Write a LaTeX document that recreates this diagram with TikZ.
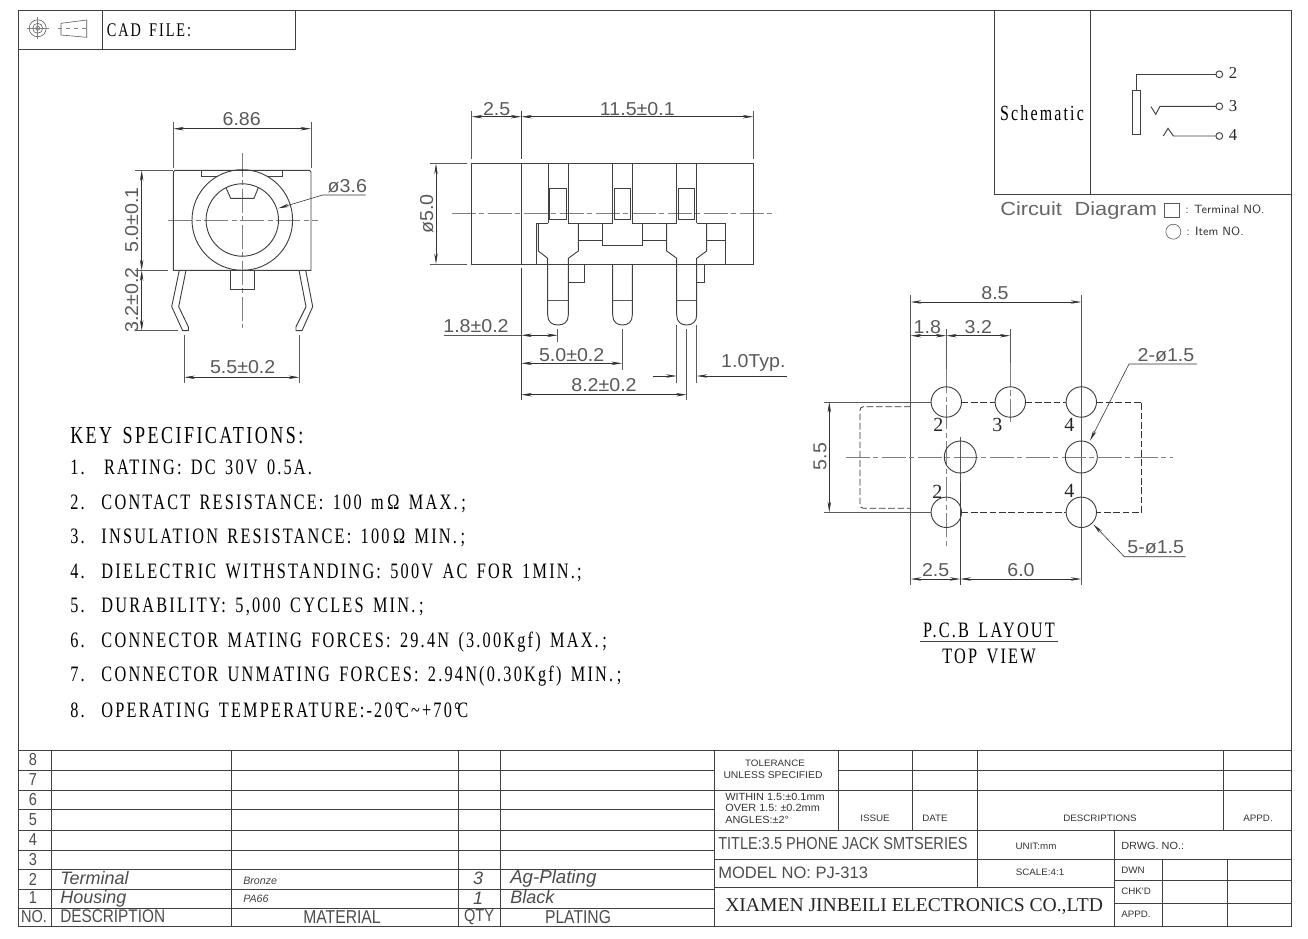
\documentclass[tikz,border=0pt]{standalone}
\usepackage{fontspec}
\usetikzlibrary{arrows.meta}
\newfontfamily\cadFont[FakeStretch=1.05]{Liberation Sans}
\newfontfamily\wideFont[FakeStretch=1.15]{Liberation Sans}
\newfontfamily\tableFont[FakeStretch=0.84]{Liberation Sans}
\newfontfamily\slantFont[FakeStretch=1.0]{Liberation Sans}
\newfontfamily\specFont[FakeStretch=0.74,LetterSpace=10,WordSpace=1.5]{Liberation Serif}
\newfontfamily\pinFont{Liberation Serif}
\begin{document}
\begin{tikzpicture}[%%
  x=0.75pt,y=-0.75pt,%%
  lineStyle/.style={-,line width=0.7pt,black!75},%%
  thinStyle/.style={-,line width=0.45pt,black!65},%%
  centerStyle/.style={-,line width=0.4pt,black!50,dash pattern=on 18pt off 2.5pt on 4pt off 2.5pt},%%
  hiddenStyle/.style={-,line width=0.6pt,black!80,dash pattern=on 5pt off 2pt},%%
  dimStyle/.style={{Stealth[length=8pt,width=2.6pt]}-{Stealth[length=8pt,width=2.6pt]},line width=0.45pt,black!80},%%
  tipStyle/.style={-{Stealth[length=8pt,width=2.6pt]},line width=0.45pt,black!80},%%
  dimText/.style={inner sep=0pt,black!65,font=\cadFont\fontsize{14}{14}\selectfont},%%
  tableText/.style={inner sep=0pt,black!70,font=\tableFont\fontsize{13}{13}\selectfont},%%
  tableItalic/.style={inner sep=0pt,black!70,font=\slantFont\itshape\fontsize{13.5}{13.5}\selectfont},%%
  smallItalic/.style={inner sep=0pt,black!75,font=\slantFont\itshape\fontsize{8}{8}\selectfont},%%
  smallText/.style={inner sep=0pt,black!80,font=\cadFont\fontsize{7}{7}\selectfont},%%
  noteText/.style={inner sep=0pt,black!80,anchor=west,font=\cadFont\fontsize{7.8}{7.8}\selectfont},%%
  specText/.style={inner sep=0pt,anchor=base west,black,font=\specFont\fontsize{16.5}{16.5}\selectfont},%%
  pinText/.style={inner sep=0pt,black!85,font=\pinFont\fontsize{15}{15}\selectfont}%%
]
\useasboundingbox (0,0) rectangle (1308,938);
%%
%%
%% Frame of the sheet.
\draw[lineStyle] (18,10) rectangle (1291,926);
%% CAD file box.
\draw[lineStyle] (18,49) -- (295,49) -- (295,10);
\draw[lineStyle] (102,10) -- (102,49);
\draw[thinStyle] (37.7,28.3) circle (8.5);
\draw[thinStyle] (37.7,28.3) circle (5);
\draw[thinStyle] (37.7,28.3) circle (2);
\draw[centerStyle,solid] (26.5,28.3) -- (49,28.3);
\draw[centerStyle,solid] (37.7,17.5) -- (37.7,39);
\draw[thinStyle] (61,23.3) -- (86.7,20) -- (86.7,37.3) -- (61,35) -- cycle;
\draw[centerStyle,dashed] (58,28.3) -- (90,28.3);
\node (CadFile) at (149,30) [specText,anchor=center,font=\specFont\fontsize{14.5}{14.5}\selectfont] {CAD FILE:};
%%
%%
%% Schematic box.
\draw[lineStyle] (994,10) -- (994,194.3) -- (1291,194.3);
\draw[lineStyle] (1090.3,10) -- (1090.3,194.3);
\node (Schematic) at (1042,113) [specText,anchor=center,font=\specFont\fontsize{16.2}{16.2}\selectfont] {Schematic};
\draw[lineStyle] (1132.3,90.3) rectangle (1140.7,134.3);
\draw[lineStyle] (1136.3,90.3) -- (1136.3,74.3) -- (1216,74.3);
\draw[lineStyle] (1151,106.7) -- (1155.7,114.3) -- (1160,106.3) -- (1216,106.3);
\draw[lineStyle] (1163.3,136) -- (1168,128.3) -- (1173.3,136) -- (1216,136);
\draw[lineStyle] (1219.3,74.3) circle (3.4);
\draw[lineStyle] (1219.3,106.3) circle (3.4);
\draw[lineStyle] (1219.3,136) circle (3.4);
\node (SchemTwo) at (1233,73) [pinText,font=\pinFont\fontsize{12.5}{12.5}\selectfont] {2};
\node (SchemThree) at (1233,106) [pinText,font=\pinFont\fontsize{12.5}{12.5}\selectfont] {3};
\node (SchemFour) at (1233,135) [pinText,font=\pinFont\fontsize{12.5}{12.5}\selectfont] {4};
\node (Circuit) at (1000,211) [dimText,anchor=west,black!60,font=\wideFont\fontsize{14.2}{14.2}\selectfont] {Circuit\hspace{5pt} Diagram};
\draw[thinStyle] (1164.7,203.3) rectangle (1179.3,217.3);
\draw[thinStyle] (1173.3,231.7) circle (7.5);
\node (TerminalNo) at (1185,209.5) [smallText,anchor=west,font=\sffamily\fontsize{9}{9}\selectfont] {: Terminal NO.};
\node (ItemNo) at (1186,231.7) [smallText,anchor=west,font=\sffamily\fontsize{9}{9}\selectfont] {: Item NO.};
%%
%%
%% Front view of the jack.
\draw[centerStyle] (168.3,220) -- (318.3,220);
\draw[centerStyle] (242.3,152.7) -- (242.3,328.3);
\draw[lineStyle] (175,170.3) -- (309.5,170.3) -- (311,172) -- (311,270.3) -- (173.3,270.3) -- (173.3,172) -- cycle;
\draw[lineStyle] (201.7,170.3) -- (201.7,176) -- (218,176);
\draw[lineStyle] (266.7,176) -- (282.7,176) -- (282.7,170.3);
\draw[lineStyle] (242.3,220) circle (50.3);
\draw[lineStyle] (242.3,220) circle (36.2);
\draw[lineStyle] (226,187.7) -- (230.7,198.3) -- (254,198.3) -- (258.3,187.7);
\draw[lineStyle] (230,270.3) -- (230,289) -- (254.3,289) -- (254.3,270.3);
\draw[lineStyle] (179.3,270.3) -- (171.7,306.7) -- (182.7,330.7) -- (188.3,330.7) -- (188.3,326.7) -- (178.7,306.7) -- (186,270.3);
\draw[lineStyle] (299,270.3) -- (306,306.7) -- (296,326.7) -- (296,330.7) -- (302,330.7) -- (312.7,306.7) -- (305.7,270.3);
%% Dimensions of the front view.
\draw[thinStyle] (173.3,122.3) -- (173.3,168);
\draw[thinStyle] (311,122.3) -- (311,168);
\draw[dimStyle] (173.3,128.7) -- (311,128.7);
\node (FrontWidth) at (241.7,119.3) [dimText] {6.86};
\draw[tipStyle] (365.7,195) -- (322.7,195) -- (278.3,208.3);
\node (FrontBore) at (347.3,186) [dimText] {ø3.6};
\draw[thinStyle] (135,170.3) -- (173,170.3);
\draw[thinStyle] (135,270.3) -- (168.3,270.3);
\draw[thinStyle] (135,330.7) -- (178.3,330.7);
\draw[dimStyle] (141.7,170.3) -- (141.7,270.3);
\draw[dimStyle] (141.7,270.3) -- (141.7,330.7);
\node (FrontHeight) at (131.7,220) [dimText,rotate=90] {5.0±0.1};
\node (FrontPin) at (131.7,300) [dimText,rotate=90] {3.2±0.2};
\draw[thinStyle] (184.3,335) -- (184.3,383);
\draw[thinStyle] (299.3,335) -- (299.3,383);
\draw[dimStyle] (184.3,377.3) -- (299.3,377.3);
\node (FrontPitch) at (242.7,367.3) [dimText] {5.5±0.2};
%%
%%
%% Side view of the jack.
\draw[centerStyle] (451.7,213.3) -- (775.7,213.3);
\draw[lineStyle] (471.7,163.7) rectangle (753.3,264);
\draw[lineStyle] (521.3,163.7) -- (521.3,264);
%% Slots and windows.
\draw[lineStyle] (548.3,163.7) -- (548.3,223.3);
\draw[lineStyle] (568.3,163.7) -- (568.3,223.3);
\draw[lineStyle] (612.7,163.7) -- (612.7,223.3);
\draw[lineStyle] (632.3,163.7) -- (632.3,223.3);
\draw[lineStyle] (676.7,163.7) -- (676.7,223.3);
\draw[lineStyle] (696.7,163.7) -- (696.7,223.3);
\draw[lineStyle] (549.3,188.3) rectangle (566,219.3);
\draw[lineStyle] (614.3,188.3) rectangle (630.7,219.3);
\draw[lineStyle] (678.7,188.3) rectangle (694.7,219.3);
%% Inner outline.
\draw[lineStyle] (536,264) -- (536,223.3) -- (548.3,223.3);
\draw[lineStyle] (568.3,223.3) -- (612.7,223.3);
\draw[lineStyle] (632.3,223.3) -- (676.7,223.3);
\draw[lineStyle] (696.7,223.3) -- (725,223.3) -- (725,264);
\draw[lineStyle] (578.3,240) -- (602,240);
\draw[lineStyle] (602,223.3) -- (602,245.3) -- (642.3,245.3) -- (642.3,223.3);
\draw[lineStyle] (642.3,240) -- (666.7,240);
\draw[lineStyle] (706.7,240) -- (725,240);
%% Pins.
\draw[lineStyle] (538.3,223.3) -- (538.3,251) -- (547.7,258.3) -- (547.7,315) .. controls (547.7,322) and (552,325) .. (558,325) .. controls (564,325) and (568.3,322) .. (568.3,315) -- (568.3,258.3) -- (578.3,251) -- (578.3,223.3);
\draw[lineStyle] (612.7,264) -- (612.7,315) .. controls (612.7,322) and (617,325) .. (622.5,325) .. controls (628,325) and (632.3,322) .. (632.3,315) -- (632.3,264);
\draw[lineStyle] (666.7,223.3) -- (666.7,251) -- (676.7,258.3) -- (676.7,315) .. controls (676.7,322) and (681,325) .. (686.7,325) .. controls (692,325) and (696.7,322) .. (696.7,315) -- (696.7,258.3) -- (706.7,251) -- (706.7,223.3);
\draw[thinStyle] (548,300) -- (568,300);
\draw[thinStyle] (613,300) -- (632,300);
\draw[thinStyle] (677,300) -- (696,300);
\draw[lineStyle] (568.3,264) -- (584.3,264) -- (584.3,282) -- (568.3,282);
\draw[lineStyle] (696.7,282) -- (704,282) -- (704,264);
%% Dimensions of the side view.
\draw[thinStyle] (471.7,110.7) -- (471.7,159);
\draw[lineStyle] (521.3,110.7) -- (521.3,159);
\draw[thinStyle] (753.3,110.7) -- (753.3,159);
\draw[dimStyle] (471.7,116.7) -- (521.3,116.7);
\draw[dimStyle] (521.3,116.7) -- (753.3,116.7);
\node (SideFront) at (496.7,108.7) [dimText] {2.5};
\node (SideLength) at (637.3,108.7) [dimText] {11.5±0.1};
\draw[thinStyle] (430,163.7) -- (466.7,163.7);
\draw[thinStyle] (430,264) -- (466.7,264);
\draw[dimStyle] (436,163.7) -- (436,264);
\node (SideDia) at (426.7,214) [dimText,rotate=90] {ø5.0};
\draw[lineStyle] (521.3,268.3) -- (521.3,400);
\draw[thinStyle] (557.7,329) -- (557.7,341.7);
\draw[thinStyle] (622,329) -- (622,370);
\draw[thinStyle] (686.7,329) -- (686.7,400);
\draw[thinStyle] (444,335.3) -- (521.3,335.3);
\draw[dimStyle] (521.3,335.3) -- (557.7,335.3);
\draw[dimStyle] (521.3,363.3) -- (622,363.3);
\draw[dimStyle] (521.3,394.7) -- (686.7,394.7);
\node (SideFirst) at (476,326) [dimText] {1.8±0.2};
\node (SideSecond) at (571.7,355) [dimText] {5.0±0.2};
\node (SideThird) at (604,385) [dimText] {8.2±0.2};
\draw[thinStyle] (676.7,325) -- (676.7,382.7);
\draw[thinStyle] (696.7,325) -- (696.7,382.7);
\draw[tipStyle] (652.7,376) -- (676.7,376);
\draw[tipStyle] (786.7,376) -- (696.7,376);
\node (SideTyp) at (753.3,363.3) [dimText] {1.0Typ.};
%%
%%
%% PCB layout.
\draw[thinStyle] (910.7,295) -- (910.7,585);
\draw[thinStyle] (1081.3,295) -- (1081.3,585);
\draw[centerStyle] (845.7,457) -- (1172.7,457);
\draw[centerStyle] (946.3,369.3) -- (946.3,545.7);
\draw[centerStyle] (1010.3,363) -- (1010.3,421.7);
\draw[thinStyle] (960.3,436.7) -- (960.3,481.7);
\draw[thinStyle] (946.3,329.3) -- (946.3,369.3);
\draw[thinStyle] (1010.3,329.3) -- (1010.3,363);
\draw[lineStyle] (960.3,481.7) -- (960.3,585);
%% Dashed outline of the jack.
\draw[hiddenStyle] (961.5,402) -- (995,402);
\draw[hiddenStyle] (1025.5,402) -- (1066,402);
\draw[hiddenStyle] (1096.5,402) -- (1141.7,402) -- (1141.7,512.3) -- (1096.5,512.3);
\draw[hiddenStyle] (961.5,512.3) -- (1066,512.3);
\draw[hiddenStyle,rounded corners=2.5pt] (910.7,406.7) -- (860,406.7) -- (860,508.3) -- (910.7,508.3);
%% Pads.
\draw[lineStyle] (946.3,402) circle (15.2);
\draw[lineStyle] (1010.3,402) circle (15.2);
\draw[lineStyle] (1081.3,402) circle (15.2);
\draw[lineStyle] (960.3,457) circle (16);
\draw[lineStyle] (1081.3,457) circle (16);
\draw[lineStyle] (946.3,512.3) circle (15.2);
\draw[lineStyle] (1081.3,512.3) circle (15.2);
\node (PadTwoTop) at (938.3,425) [pinText] {2};
\node (PadThree) at (997.3,425) [pinText] {3};
\node (PadFourTop) at (1069.3,424.7) [pinText] {4};
\node (PadTwoLow) at (937.3,491.7) [pinText] {2};
\node (PadFourLow) at (1069.3,490.7) [pinText] {4};
%% Dimensions of the layout.
\draw[dimStyle] (910.7,302) -- (1081.3,302);
\node (LayoutWidth) at (995,292.7) [dimText] {8.5};
\draw[dimStyle] (910.7,335.7) -- (946.3,335.7);
\draw[dimStyle] (946.3,335.7) -- (1010.3,335.7);
\node (LayoutFirst) at (927.3,326.7) [dimText] {1.8};
\node (LayoutSecond) at (978.3,326.7) [dimText] {3.2};
\draw[thinStyle] (824,402) -- (931,402);
\draw[thinStyle] (824,512.3) -- (931,512.3);
\draw[dimStyle] (829.3,402) -- (829.3,512.3);
\node (LayoutHeight) at (820,456.7) [dimText,rotate=90] {5.5};
\draw[dimStyle] (910.7,579) -- (960.3,579);
\draw[dimStyle] (960.3,579) -- (1081.3,579);
\node (LayoutFront) at (935.7,570) [dimText] {2.5};
\node (LayoutRear) at (1021,570) [dimText] {6.0};
\draw[tipStyle] (1197,364) -- (1129,364) -- (1090,440.7);
\node (LeaderTwo) at (1166,355) [dimText] {2-ø1.5};
\draw[tipStyle] (1185.7,556.7) -- (1124.3,556.7) -- (1093.3,524.3);
\node (LeaderFive) at (1155.7,547.7) [dimText] {5-ø1.5};
\node (PcbLayout) at (989,637) [specText,anchor=base] {P.C.B LAYOUT};
\draw[lineStyle] (920,641) -- (1058,641);
\node (TopView) at (989,663) [specText,anchor=base] {TOP VIEW};
%%
%%
%% Key specifications.
\node (KeySpec) at (70,443.5) [specText,font=\specFont\fontsize{18.3}{18.3}\selectfont] {KEY SPECIFICATIONS:};
\node (SpecOne) at (70,474) [specText] {1.\hspace{4pt} \hspace{2pt}RATING: DC 30V 0.5A.};
\node (SpecTwo) at (70,509) [specText] {2.\hspace{4pt} CONTACT RESISTANCE: 100 m\,Ω\ MAX.\,;};
\node (SpecThree) at (70,543) [specText] {3.\hspace{4pt} INSULATION RESISTANCE: 100\,Ω\ MIN.\,;};
\node (SpecFour) at (70,578) [specText] {4.\hspace{4pt} DIELECTRIC WITHSTANDING: 500V AC FOR 1MIN.;};
\node (SpecFive) at (70,612) [specText] {5.\hspace{4pt} DURABILITY: 5,000 CYCLES MIN.\,;};
\node (SpecSix) at (70,647) [specText] {6.\hspace{4pt} CONNECTOR MATING FORCES: 29.4N (3.00Kgf) MAX.\,;};
\node (SpecSeven) at (70,681) [specText] {7.\hspace{4pt} CONNECTOR UNMATING FORCES: 2.94N(0.30Kgf) MIN.\,;};
\node (SpecEight) at (70,717) [specText] {8.\hspace{4pt} OPERATING TEMPERATURE:-20°\kern-2.5pt C\textasciitilde{}+70°\kern-2.5pt C};
%%
%%
%% Parts list.
\draw[lineStyle] (18,750) -- (1291,750);
\draw[lineStyle] (18,770) -- (714,770);
\draw[lineStyle] (838,770) -- (1291,770);
\draw[lineStyle] (18,790) -- (1291,790);
\draw[lineStyle] (18,809) -- (714,809);
\draw[lineStyle] (18,830) -- (1291,830);
\draw[lineStyle] (18,850) -- (714,850);
\draw[lineStyle] (18,869) -- (714,869);
\draw[lineStyle] (18,889) -- (714,889);
\draw[lineStyle] (18,908) -- (714,908);
\draw[lineStyle] (51,750) -- (51,926);
\draw[lineStyle] (231,750) -- (231,926);
\draw[lineStyle] (458,750) -- (458,926);
\draw[lineStyle] (500,750) -- (500,926);
\draw[lineStyle] (714,750) -- (714,926);
\node (RowEight) at (33,760) [tableText] {8};
\node (RowSeven) at (33,780) [tableText] {7};
\node (RowSix) at (33,800) [tableText] {6};
\node (RowFive) at (33,820) [tableText] {5};
\node (RowFour) at (33,840) [tableText] {4};
\node (RowThree) at (33,860) [tableText] {3};
\node (RowTwo) at (33,879) [tableText] {2};
\node (RowOne) at (33,898) [tableText] {1};
\node (HeadNo) at (34,917) [tableText] {NO.};
\node (Terminal) at (60,878) [tableItalic,anchor=west] {Terminal};
\node (Housing) at (60,899) [tableItalic,anchor=west] {Housing};
\node (HeadDescription) at (60,916) [tableText,anchor=west,font=\tableFont\fontsize{13.7}{13.7}\selectfont] {DESCRIPTION};
\node (Bronze) at (243,881) [smallItalic,anchor=west] {Bronze};
\node (PaSix) at (243,899) [smallItalic,anchor=west] {PA66};
\node (HeadMaterial) at (342,917) [tableText,font=\tableFont\fontsize{14}{14}\selectfont] {MATERIAL};
\node (QtyThree) at (478,878) [tableItalic] {3};
\node (QtyOne) at (478,898) [tableItalic] {1};
\node (HeadQty) at (479,917) [tableText] {QTY};
\node (AgPlating) at (510,879) [tableItalic,anchor=west,font=\slantFont\itshape\fontsize{14}{14}\selectfont] {Ag-Plating};
\node (Black) at (510,897) [tableItalic,anchor=west] {Black};
\node (HeadPlating) at (578,917) [tableText,font=\tableFont\fontsize{14}{14}\selectfont] {PLATING};
%%
%%
%% Title block.
\draw[lineStyle] (838,750) -- (838,830);
\draw[lineStyle] (912,750) -- (912,830);
\draw[lineStyle] (977,750) -- (977,887);
\draw[lineStyle] (1223,750) -- (1223,830);
\draw[lineStyle] (714,859) -- (1291,859);
\draw[lineStyle] (714,887) -- (1114,887);
\draw[lineStyle] (1114,880) -- (1291,880);
\draw[lineStyle] (1114,903) -- (1291,903);
\draw[lineStyle] (1114,830) -- (1114,926);
\draw[lineStyle] (1162,859) -- (1162,926);
\draw[lineStyle] (1227,859) -- (1227,926);
\node (Tolerance) at (775,763) [smallText] {TOLERANCE};
\node (Unless) at (773,775) [smallText,font=\cadFont\fontsize{7.4}{7.4}\selectfont] {UNLESS SPECIFIED};
\node (Within) at (725,797) [noteText] {WITHIN 1.5:±0.1mm};
\node (Over) at (725,808) [noteText] {OVER 1.5:\ ±0.2mm};
\node (Angles) at (725,820) [noteText] {ANGLES:±2°};
\node (Issue) at (875,818) [smallText] {ISSUE};
\node (Date) at (935,818) [smallText] {DATE};
\node (Descriptions) at (1100,818) [smallText] {DESCRIPTIONS};
\node (Appd) at (1258,818) [smallText] {APPD.};
\node (Title) at (718,844) [tableText,anchor=west] {TITLE:3.5 PHONE JACK SMTSERIES};
\node (Model) at (718,873) [tableText,anchor=west,font=\slantFont\fontsize{12.4}{12.4}\selectfont] {MODEL NO: PJ-313};
\node (Company) at (725,907) [pinText,anchor=west,font=\pinFont\fontsize{14.7}{14.7}\selectfont] {XIAMEN JINBEILI ELECTRONICS CO.,LTD};
\node (Unit) at (1036,846) [smallText] {UNIT:mm};
\node (Scale) at (1040,872) [smallText] {SCALE:4:1};
\node (DrwgNo) at (1121,846) [noteText] {DRWG. NO.:};
\node (Dwn) at (1121,870) [smallText,anchor=west] {DWN};
\node (Chkd) at (1121,891) [smallText,anchor=west] {CHK'D};
\node (ApprovedBy) at (1121,914) [smallText,anchor=west] {APPD.};
\end{tikzpicture}
\end{document}
